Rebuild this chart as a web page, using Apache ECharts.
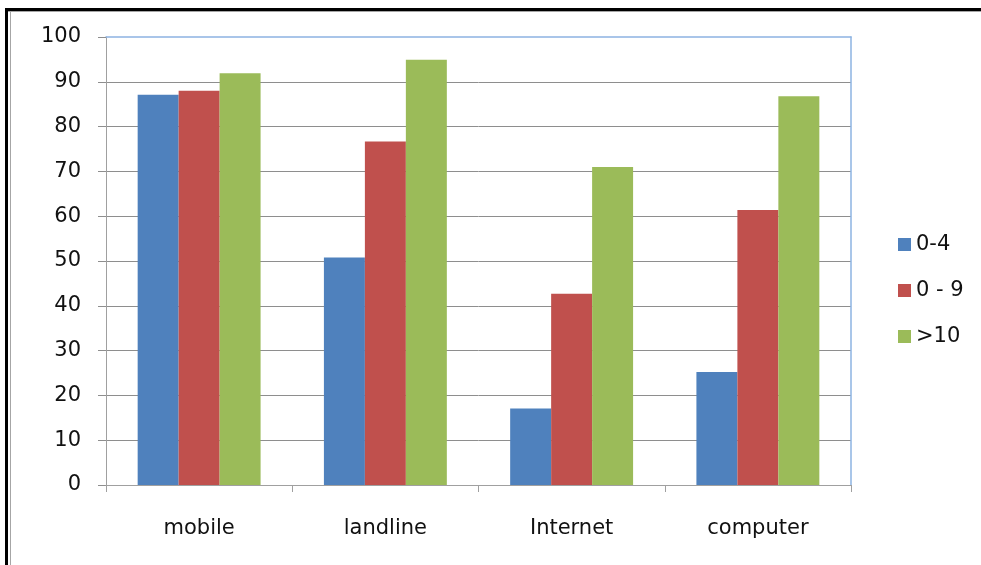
<!DOCTYPE html>
<html>
<head>
<meta charset="utf-8">
<script src="https://cdn.jsdelivr.net/npm/echarts@6/dist/echarts.min.js"></script>
<style>
  html, body { margin: 0; padding: 0; background: #ffffff; }
  #chart { width: 981px; height: 565px; }
</style>
</head>
<body>
<div id="chart"></div>
<script>
// Device ownership by age group (%)
const categories = ['mobile', 'landline', 'Internet', 'computer'];
const seriesNames = ['0-4', '0 - 9', '>10'];
const age0to4 = [87.1, 50.8, 17.1, 25.2];
const age0to9 = [88.0, 76.7, 42.7, 61.4];
const ageOver10 = [91.9, 94.9, 71.0, 86.8];
const yTicks = { min: 0, max: 100, interval: 10 };

const colors = ['#4f81bd', '#c0504d', '#9bbb59'];
const font = 'DejaVu Sans, Verdana, sans-serif';
const textColor = '#111';

const chart = echarts.init(document.getElementById('chart'), null, { renderer: 'canvas' });

const values = [age0to4, age0to9, ageOver10];

chart.setOption({
  animation: false,
  backgroundColor: '#ffffff',
  color: colors,
  graphic: [
    // page frame: heavy top and left rules with a thin inner line
    { type: 'rect', shape: { x: 5, y: 8, width: 976, height: 3 }, style: { fill: '#000' } },
    { type: 'rect', shape: { x: 5, y: 8, width: 3, height: 557 }, style: { fill: '#000' } },
    { type: 'rect', shape: { x: 8, y: 11, width: 973, height: 1 }, style: { fill: '#a6a6a6' } },
    { type: 'rect', shape: { x: 10, y: 11, width: 1, height: 554 }, style: { fill: '#a6a6a6' } }
  ],
  grid: { left: 106, right: 130, top: 37, bottom: 80 },
  legend: {
    orient: 'vertical',
    left: 893,
    top: 229,
    itemWidth: 13,
    itemHeight: 13,
    itemGap: 25,
    icon: 'rect',
    data: seriesNames,
    textStyle: { fontFamily: font, fontSize: 21, color: textColor }
  },
  xAxis: [
    {
      type: 'category',
      data: categories,
      axisLine: { show: true, lineStyle: { color: '#a0a0a0', width: 1 } },
      axisTick: { show: true, alignWithLabel: false, length: 7, lineStyle: { color: '#a0a0a0' } },
      axisLabel: { fontFamily: font, fontSize: 21, color: textColor, margin: 33 },
      z: 5
    },
    {
      // plot-area top edge
      type: 'category',
      position: 'top',
      data: categories,
      axisLine: { show: true, onZero: false, lineStyle: { color: '#8db3e2', width: 1.5 } },
      axisTick: { show: false },
      axisLabel: { show: false }
    }
  ],
  yAxis: [
    {
      type: 'value',
      min: yTicks.min,
      max: yTicks.max,
      interval: yTicks.interval,
      axisLine: { show: true, lineStyle: { color: '#a0a0a0', width: 1 } },
      axisTick: { show: true, length: 8, lineStyle: { color: '#8e8e8e' } },
      axisLabel: { fontFamily: font, fontSize: 21, color: textColor, margin: 25 },
      splitLine: { show: true, showMaxLine: false, lineStyle: { color: '#8e8e8e', width: 1 } }
    },
    {
      // plot-area right edge
      type: 'value',
      position: 'right',
      min: yTicks.min,
      max: yTicks.max,
      interval: yTicks.interval,
      axisLine: { show: true, onZero: false, lineStyle: { color: '#8db3e2', width: 1.5 } },
      axisTick: { show: false },
      axisLabel: { show: false },
      splitLine: { show: false }
    }
  ],
  series: seriesNames.map((name, i) => ({
    name: name,
    type: 'bar',
    data: values[i],
    barGap: '0%',
    barCategoryGap: '34%',
    itemStyle: { color: colors[i] }
  }))
});
</script>
</body>
</html>
